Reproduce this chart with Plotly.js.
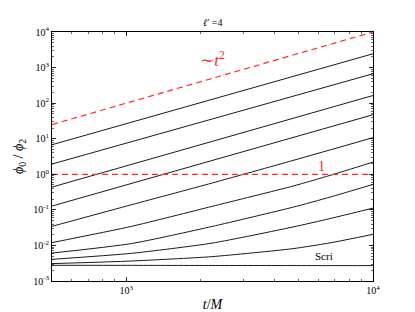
<!DOCTYPE html>
<html><head><meta charset="utf-8">
<script src="https://cdn.plot.ly/plotly-3.0.1.min.js"></script>
<style>html,body{margin:0;padding:0;background:#fff;}#chart{width:415px;height:312px;}</style>
</head><body><div id="chart"></div>
<script>
// time samples (t/M)
const tEnds = [500, 10000];
const tLine5 = [500, 1000, 2223, 4740, 10000];
const tCurve = [500, 1051, 2223, 4740, 6700, 10000];

// phi0/phi2 curves (top to bottom)
const line1 = [6.78, 2443];
const line2 = [1.94, 670];
const line3 = [0.437, 164];
const line4 = [0.128, 47.2];
const line5 = [0.0344, 0.127, 0.566, 2.45, 10.7];
const line6 = [0.0120, 0.0344, 0.125, 0.467, 0.931, 2.20];
const line7 = [0.0061, 0.0113, 0.034, 0.119, 0.228, 0.52];
const line8 = [0.00407, 0.0060, 0.0116, 0.033, 0.057, 0.112];
const line9 = [0.00308, 0.00365, 0.00484, 0.00813, 0.0118, 0.0205];
const scri  = [0.00276, 0.00275, 0.00273, 0.00272, 0.00271, 0.00271];

// reference lines
const tSquared = [25, 10000];   // ~ t^2
const unity = [1, 1];

// axis ticks
const xTickVals = [1000, 10000];
const xTickText = ['10<sup>3</sup>', '10<sup>4</sup>'];
const yTickVals = [0.001, 0.01, 0.1, 1, 10, 100, 1000, 10000];
const yTickText = ['10<sup>-3</sup>', '10<sup>-2</sup>', '10<sup>-1</sup>', '10<sup>0</sup>',
                   '10<sup>1</sup>', '10<sup>2</sup>', '10<sup>3</sup>', '10<sup>4</sup>'];

const blk = {color: '#1a1a1a', width: 1.0, shape: 'spline', smoothing: 0.6};
function bl(x, y) { return {x: x, y: y, mode: 'lines', line: blk, hoverinfo: 'skip', showlegend: false}; }
const redDash = {color: '#ff2a2a', width: 1.2, dash: '6px,4px'};

const traces = [
  bl(tEnds, line1), bl(tEnds, line2), bl(tEnds, line3), bl(tEnds, line4),
  bl(tLine5, line5), bl(tCurve, line6), bl(tCurve, line7), bl(tCurve, line8),
  bl(tCurve, line9), bl(tCurve, scri),
  {x: tEnds, y: tSquared, mode: 'lines', line: redDash, showlegend: false},
  {x: tEnds, y: unity, mode: 'lines', line: redDash, showlegend: false}
];

const serif = 'Liberation Serif, DejaVu Serif, serif';
const axisCommon = {
  type: 'log', showgrid: false, zeroline: false,
  showline: true, linecolor: '#000', linewidth: 1, mirror: 'allticks',
  ticks: 'inside', ticklen: 4, tickcolor: '#000', tickwidth: 0.8,
  tickfont: {family: serif, size: 10, color: '#000'},
  minor: {ticks: 'inside', ticklen: 2, tickcolor: '#000', tickwidth: 0.6, dtick: 'D1'}
};

const layout = {
  width: 415, height: 312,
  margin: {l: 52, r: 42, t: 32, b: 31},
  paper_bgcolor: '#fff', plot_bgcolor: '#fff',
  font: {family: serif, color: '#000'},
  xaxis: Object.assign({}, axisCommon, {
    range: [Math.log10(500), 4],
    tickvals: xTickVals, ticktext: xTickText,
    title: {text: '<i>t</i>/<i>M</i>', font: {family: serif, size: 14}, standoff: 4}
  }),
  yaxis: Object.assign({}, axisCommon, {
    range: [-3, 4],
    tickvals: yTickVals, ticktext: yTickText,
    title: {text: '<i>ϕ</i><sub>0</sub> / <i>ϕ</i><sub>2</sub>', font: {family: serif, size: 14}, standoff: 6}
  }),
  annotations: [
    {xref: 'paper', yref: 'paper', x: 0.5, y: 1, xanchor: 'center', yanchor: 'bottom', yshift: 2,
     text: '<i>ℓ</i>′ =4', showarrow: false,
     font: {family: serif, size: 10, color: '#000'}},
    {xref: 'paper', yref: 'paper', x: 0.5, y: 0.89, xanchor: 'center', yanchor: 'middle',
     text: '∼<i>t</i><sup>2</sup>', showarrow: false,
     font: {family: serif, size: 17, color: '#ff2a2a'}},
    {xref: 'paper', yref: 'paper', x: 0.841, y: 0.458, xanchor: 'center', yanchor: 'middle',
     text: '1', showarrow: false,
     font: {family: serif, size: 14, color: '#ff2a2a'}},
    {xref: 'paper', yref: 'paper', x: 0.848, y: 0.10, xanchor: 'center', yanchor: 'middle',
     text: 'Scri', showarrow: false,
     font: {family: serif, size: 11, color: '#000'}}
  ]
};

Plotly.newPlot('chart', traces, layout, {staticPlot: true, displayModeBar: false});
</script></body></html>
